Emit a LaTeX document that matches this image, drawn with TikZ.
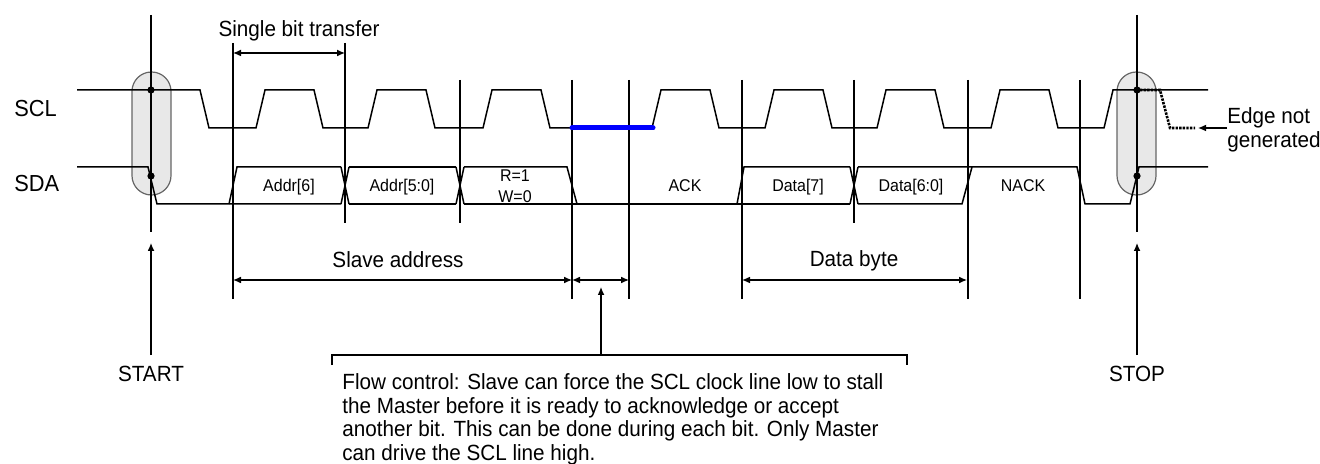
\documentclass[tikz,border=0pt]{standalone}
\usepackage{fontspec}
\setmainfont[FakeStretch=0.94]{Liberation Sans}
\usetikzlibrary{arrows.meta}
\tikzset{
  wave/.style={line width=0.75pt},
  marker/.style={line width=0.6pt},
  dimline/.style={line width=0.6pt,{Latex[length=4pt,width=3.4pt]}-{Latex[length=4pt,width=3.4pt]}},
  pointer/.style={line width=0.6pt,-{Latex[length=4pt,width=3.4pt]}},
  lbl/.style={font=\fontsize{11}{11.85}\selectfont,inner sep=0pt},
  bus/.style={font=\fontsize{8.5}{10.4}\selectfont,inner sep=0pt},
  capsule/.style={fill=black!9,draw=black!60,line width=0.6pt,rounded corners=9.7pt},
  dot/.style={circle,fill=black,inner sep=0pt,minimum size=3.6pt}
}
\begin{document}
\begin{tikzpicture}[x=0.5pt,y=-0.5pt]
\useasboundingbox (0,0) rectangle (1320,464);
\draw[capsule] (132,72) rectangle (171,195);
\draw[capsule] (1117,72) rectangle (1156,195);
% bit markers
\draw[marker] (151,15) -- (151,232);
\draw[marker] (1137,15) -- (1137,232);
\draw[marker] (233,43) -- (233,299);
\draw[marker] (345,43) -- (345,223);
\foreach \x in {572,629,742,968,1080} \draw[marker] (\x,80) -- (\x,299);
\foreach \x in {460,854} \draw[marker] (\x,80) -- (\x,223);
% SCL
\draw[wave] (77,90) -- (200,90) -- (209,128) -- (233,128);
\foreach \a/\b in {233/345,345/460,460/572,629/742,742/854,854/968,968/1080}
  \draw[wave] (\a,128) -- (\a+23,128) -- (\a+32,90) -- (\a+81,90) -- (\a+90,128) -- (\b,128);
\draw[wave] (1080,128) -- (1104,128) -- (1113,90) -- (1208,90);
\draw[blue,line width=2.5pt,line cap=round] (572,128) -- (653,128);
\draw[line width=1.3pt,dash pattern=on 1.2pt off 0.6pt] (1140,90) -- (1160,90) -- (1170,128) -- (1195,128);
% SDA
\draw[wave] (77,167) -- (148,167) -- (157,204) -- (341,204);
\draw[wave] (229,204) -- (237,167) -- (341,167);
\foreach \c in {345,460,854} \draw[wave] (\c-4,167) -- (\c+4,204) (\c-4,204) -- (\c+4,167);
\draw[wave] (349,167) -- (456,167) (349,204) -- (456,204);
\draw[wave] (464,167) -- (567,167) -- (577,204);
\draw[wave] (464,204) -- (850,204);
\draw[wave] (737,204) -- (744,167) -- (850,167);
\draw[wave] (858,167) -- (1077,167) -- (1085,204) -- (1130,204) -- (1139,167) -- (1208,167);
\draw[wave] (858,204) -- (962,204) -- (972,167);
\node[dot] (sclStart) at (151,90) {};
\node[dot] (sdaStart) at (151,176) {};
\node[dot] (sclStop) at (1137,90) {};
\node[dot] (sdaStop) at (1137,176) {};
% labels
\node[lbl,font=\fontsize{11.6}{13}\selectfont,anchor=base west] (scl) at (14,117) {SCL};
\node[lbl,font=\fontsize{11.6}{13}\selectfont,anchor=base west] (sda) at (14,192) {SDA};
\node[bus,anchor=base] (addr6) at (289,192) {Addr[6]};
\node[bus,anchor=base] (addr50) at (402,192) {Addr[5:0]};
\node[bus,align=center] (rw) at (515,186) {R=1\\W=0};
\node[bus,anchor=base] (ack) at (685,192) {ACK};
\node[bus,anchor=base] (data7) at (798,192) {Data[7]};
\node[bus,anchor=base] (data60) at (911,192) {Data[6:0]};
\node[bus,anchor=base] (nack) at (1023,192) {NACK};
\node[lbl,anchor=base] (single) at (299,37) {Single bit transfer};
\coordinate (singleL) at (233,53);
\coordinate (singleR) at (345,53);
\draw[dimline] (singleL) -- (singleR);
\node[lbl,anchor=base] (slave) at (398,268) {Slave address};
\coordinate (slaveL) at (233,280);
\coordinate (slaveR) at (572,280);
\coordinate (stallR) at (629,280);
\draw[dimline] (slaveL) -- (slaveR);
\draw[dimline] (slaveR) -- (stallR);
\node[lbl,anchor=base] (byte) at (854,267) {Data byte};
\coordinate (byteL) at (742,280);
\coordinate (byteR) at (967,280);
\draw[dimline] (byteL) -- (byteR);
\node[lbl,anchor=base,inner sep=5pt] (start) at (151,381) {START};
\node[lbl,anchor=base,inner sep=5pt] (stop) at (1137,381) {STOP};
\coordinate (startTip) at (151,243);
\coordinate (stopTip) at (1137,243);
\draw[pointer] (start.north) -- (startTip);
\draw[pointer] (stop.north) -- (stopTip);
\node[lbl,anchor=north west,align=left] (edge) at (1227,107) {Edge not\\generated};
\coordinate (edgeTip) at (1198,128);
\draw[pointer] (edge.west |- edgeTip) -- (edgeTip);
% flow control note
\draw[marker] (332,365) -- (332,355) -- (907,355) -- (907,365);
\coordinate (flowFoot) at (601,355);
\coordinate (flowTip) at (601,287);
\draw[pointer] (flowFoot) -- (flowTip);
\node[lbl,anchor=north west,align=left] (flow) at (342,373) {Flow control: Slave can force the SCL clock line low to stall\\the Master before it is ready to acknowledge or accept\\another bit. This can be done during each bit. Only Master\\can drive the SCL line high.};
\end{tikzpicture}
\end{document}
